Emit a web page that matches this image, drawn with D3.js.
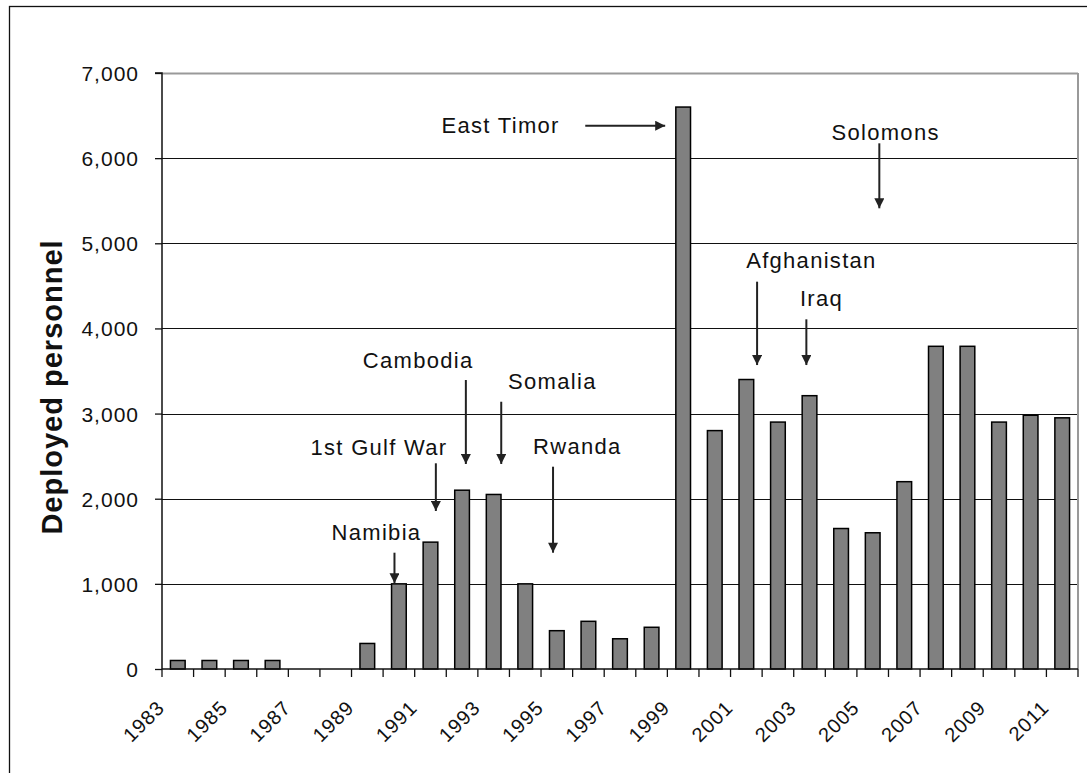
<!DOCTYPE html>
<html>
<head>
<meta charset="utf-8">
<script src="https://cdn.jsdelivr.net/npm/d3@7"></script>
<style>
  html, body { margin: 0; padding: 0; background: #fff; }
  svg { display: block; }
  text { font-family: "Liberation Sans", Arial, sans-serif; fill: #111; }
</style>
</head>
<body>
<svg id="chart" width="1087" height="773"></svg>
<script>
// ---- data ----
const years = [1983,1984,1985,1986,1987,1988,1989,1990,1991,1992,1993,1994,1995,1996,1997,1998,1999,2000,2001,2002,2003,2004,2005,2006,2007,2008,2009,2010,2011];
const personnel = [100,100,100,100,0,0,300,1000,1490,2100,2050,1000,450,560,355,490,6600,2800,3400,2900,3210,1650,1600,2200,3790,3790,2900,2980,2950];
const yTickValues = [0,1000,2000,3000,4000,5000,6000,7000];
const xTickLabels = [1983,1985,1987,1989,1991,1993,1995,1997,1999,2001,2003,2005,2007,2009,2011];
const yAxisTitle = "Deployed personnel";

// annotations: label, text position (year, value), arrow from (year, value) to (year, value)
const annLabels  = ["Namibia","1st Gulf War","Cambodia","Somalia","Rwanda","East Timor","Solomons","Afghanistan","Iraq"];
const annTextX   = [1989.29,1989.37,1990.61,1994.86,1995.65,1993.22,2005.41,2003.06,2003.38];
const annTextY   = [1515,2513,3539,3285,2525,6295,6213,4706,4258];
const annFromX   = [1989.86,1991.17,1992.12,1993.24,1994.88,1995.90,2005.21,2001.34,2002.90];
const annFromY   = [1366,2416,3394,3139,2376,6381,6174,4549,4107];
const annToX     = [1989.86,1991.17,1992.12,1993.24,1994.88,1998.43,2005.21,2001.34,2002.90];
const annToY     = [1006,1856,2408,2408,1366,6381,5411,3570,3570];

// ---- layout ----
const svg = d3.select("#chart");
const pLeft = 162, pRight = 1078, pTop = 73, pBottom = 669;

// outer frame (only left/top edges are inside the picture)
svg.append("rect").attr("x", 9.5).attr("y", 6.5).attr("width", 1200).attr("height", 900)
  .attr("fill", "none").attr("stroke", "#111").attr("stroke-width", 1.3);

const x = d3.scaleBand().domain(years).range([pLeft, pRight]).paddingInner(0.535).paddingOuter(0.2675);
const step = x.step();
const y = d3.scaleLinear().domain([0, 7000]).range([pBottom, pTop]);
const xYear = d3.scaleLinear().domain([1983, 2011])
  .range([x(1983) + x.bandwidth() / 2, x(2011) + x.bandwidth() / 2]);

// gridlines
svg.append("g").selectAll("line").data(yTickValues.filter(v => v > 0 && v < 7000)).join("line")
  .attr("x1", pLeft).attr("x2", pRight)
  .attr("y1", d => Math.round(y(d)) + 0.5).attr("y2", d => Math.round(y(d)) + 0.5)
  .attr("stroke", "#111").attr("stroke-width", 1);
// plot-area top and right border (grey)
svg.append("line").attr("x1", pLeft).attr("x2", pRight).attr("y1", y(7000) + 0.5).attr("y2", y(7000) + 0.5)
  .attr("stroke", "#999").attr("stroke-width", 2);
svg.append("line").attr("x1", pRight).attr("x2", pRight).attr("y1", pTop).attr("y2", pBottom)
  .attr("stroke", "#999").attr("stroke-width", 2);

// bars
svg.append("g").selectAll("rect").data(years.map((yr, i) => ({ yr, v: personnel[i] })).filter(d => d.v > 0)).join("rect")
  .attr("x", d => x(d.yr)).attr("width", x.bandwidth())
  .attr("y", d => y(d.v)).attr("height", d => y(0) - y(d.v))
  .attr("fill", "#808080").attr("stroke", "#000").attr("stroke-width", 1.5);

// y axis
const yAxis = d3.axisLeft(y).tickValues(yTickValues).tickSize(7).tickPadding(16)
  .tickFormat(d3.format(","));
const gy = svg.append("g").attr("transform", `translate(${pLeft},0)`).call(yAxis);
gy.select(".domain").attr("stroke", "#111").attr("stroke-width", 1.5).attr("d", `M-7,${pTop}H0V${pBottom}`);
gy.selectAll(".tick line").attr("stroke", "#111").attr("stroke-width", 1.3);
gy.selectAll(".tick text").attr("font-size", 21).style("letter-spacing", "1px")
  .attr("fill", "#111").attr("font-family", "Liberation Sans, Arial, sans-serif").attr("dy", "0.36em");

// x axis: baseline + ticks at category boundaries
const gx = svg.append("g");
gx.append("line").attr("x1", pLeft).attr("x2", pRight).attr("y1", pBottom).attr("y2", pBottom)
  .attr("stroke", "#111").attr("stroke-width", 1.5);
gx.selectAll("line.tk").data(d3.range(years.length + 1)).join("line").attr("class", "tk")
  .attr("x1", i => pLeft + i * step).attr("x2", i => pLeft + i * step)
  .attr("y1", pBottom).attr("y2", pBottom + 8)
  .attr("stroke", "#111").attr("stroke-width", 1.3);
gx.selectAll("text").data(xTickLabels).join("text")
  .attr("transform", d => `translate(${x(d) + x.bandwidth() / 2 - 12},${pBottom + 40}) rotate(-45)`)
  .attr("text-anchor", "end").attr("font-size", 20).style("letter-spacing", "1px")
  .text(d => d);

// y axis title
svg.append("text").attr("transform", `translate(62,387) rotate(-90)`)
  .attr("text-anchor", "middle").attr("font-size", 29).attr("font-weight", "bold")
  .style("letter-spacing", "1px").text(yAxisTitle);

// arrowhead marker
svg.append("defs").append("marker").attr("id", "arr")
  .attr("viewBox", "0 0 10 10").attr("refX", 10).attr("refY", 5)
  .attr("markerUnits", "userSpaceOnUse").attr("markerWidth", 11).attr("markerHeight", 10)
  .attr("orient", "auto")
  .append("path").attr("d", "M0,0L10,5L0,10Z").attr("fill", "#222");

const anns = annLabels.map((t, i) => ({ t, tx: annTextX[i], ty: annTextY[i], fx: annFromX[i], fy: annFromY[i], ex: annToX[i], ey: annToY[i] }));
svg.append("g").selectAll("line").data(anns).join("line")
  .attr("x1", d => xYear(d.fx)).attr("y1", d => y(d.fy))
  .attr("x2", d => xYear(d.ex)).attr("y2", d => y(d.ey))
  .attr("stroke", "#222").attr("stroke-width", 2).attr("marker-end", "url(#arr)");
svg.append("g").selectAll("text").data(anns).join("text")
  .attr("x", d => xYear(d.tx)).attr("y", d => y(d.ty))
  .attr("text-anchor", "middle").attr("font-size", 22).style("letter-spacing", "1.3px")
  .text(d => d.t);
</script>
</body>
</html>
